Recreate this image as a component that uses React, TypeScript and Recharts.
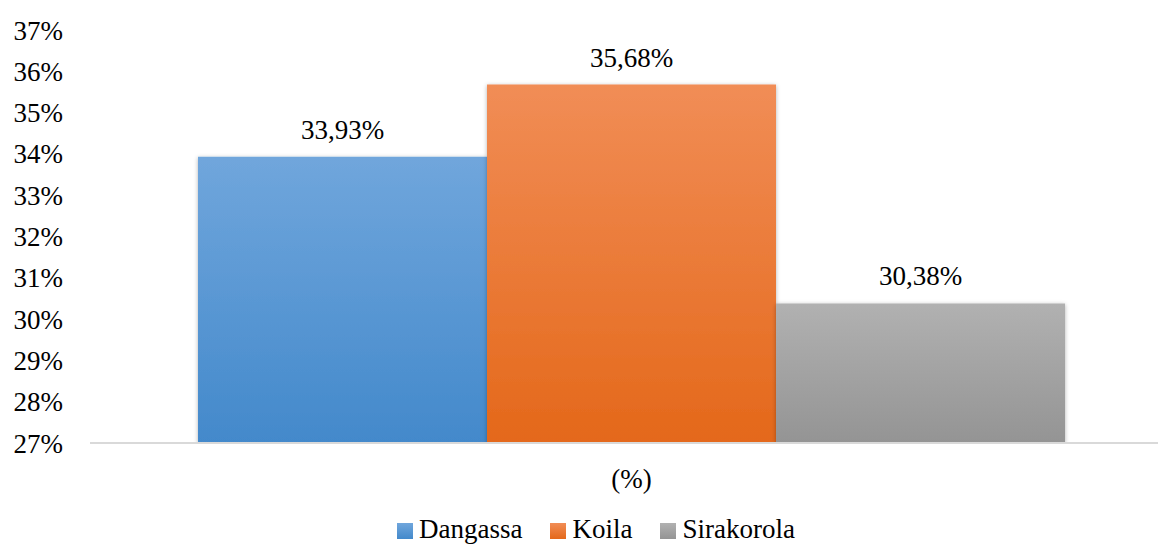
import { BarChart, Bar, XAxis, YAxis, LabelList } from "recharts";

const categories = ["(%)"];
const seriesNames = ["Dangassa", "Koila", "Sirakorola"];
const seriesValues = [33.93, 35.68, 30.38];
const yTicks = [27, 28, 29, 30, 31, 32, 33, 34, 35, 36, 37];

// top / bottom gradient stops per series
const seriesColors = [
  ["#70a6dc", "#4389cb"],
  ["#f18d56", "#e4681a"],
  ["#b1b1b1", "#949494"],
];

const data = categories.map((cat) => {
  const row: Record<string, string | number> = { cat };
  seriesNames.forEach((name, i) => {
    row[name] = seriesValues[i];
  });
  return row;
});

const font = "'Liberation Serif', 'Times New Roman', Times, 'DejaVu Serif', serif";
const fs = 27;
const fmtPct = (v: number) => v.toFixed(2).replace(".", ",") + "%";

export default function App() {
  return (
    <div
      style={{
        position: "absolute",
        left: 0,
        top: 0,
        width: 1158,
        height: 547,
        overflow: "hidden",
        background: "#fff",
        fontFamily: font,
      }}
    >
      <BarChart
        width={1173}
        height={547}
        data={data}
        margin={{ top: 30, right: 0, left: 0, bottom: 74 }}
        barCategoryGap={108}
        barGap={0}
        style={{ fontFamily: font }}
      >
        <defs>
          {seriesColors.map(([top, bottom], i) => (
            <linearGradient key={i} id={`grad${i}`} x1="0" y1="0" x2="0" y2="1">
              <stop offset="0%" stopColor={top} />
              <stop offset="100%" stopColor={bottom} />
            </linearGradient>
          ))}
          <filter id="shadow" x="-10%" y="-10%" width="120%" height="120%">
            <feDropShadow dx="0" dy="1" stdDeviation="2" floodColor="#000" floodOpacity="0.3" />
          </filter>
        </defs>
        <XAxis
          dataKey="cat"
          height={30}
          axisLine={{ stroke: "#d9d9d9", strokeWidth: 2 }}
          tickLine={false}
          tick={{ fill: "#000", fontSize: fs, fontFamily: font }}
          tickMargin={20}
        />
        <YAxis
          domain={[27, 37]}
          ticks={yTicks}
          width={90}
          axisLine={false}
          tickLine={false}
          tickSize={6}
          tickMargin={21}
          interval={0}
          tickFormatter={(v: number) => `${v}%`}
          tick={{ fill: "#000", fontSize: fs, fontFamily: font }}
          allowDataOverflow
        />
        {seriesNames.map((name, i) => (
          <Bar
            key={name}
            dataKey={name}
            fill={`url(#grad${i})`}
            filter="url(#shadow)"
            isAnimationActive={false}
          >
            <LabelList
              dataKey={name}
              position="top"
              offset={18}
              formatter={(v: number) => fmtPct(v)}
              style={{ fill: "#000", fontSize: fs, fontFamily: font }}
            />
          </Bar>
        ))}
      </BarChart>
      <div
        style={{
          position: "absolute",
          left: 0,
          width: 1192,
          top: 514,
          display: "flex",
          justifyContent: "center",
          alignItems: "center",
          fontSize: fs,
          lineHeight: "30px",
          color: "#000",
          whiteSpace: "nowrap",
        }}
      >
        {seriesNames.map((name, i) => (
          <div
            key={name}
            style={{ display: "flex", alignItems: "center", marginLeft: i === 0 ? 0 : 28 }}
          >
            <span
              style={{
                display: "inline-block",
                width: 16,
                height: 16,
                marginRight: 6,
                marginTop: 4,
                background: `linear-gradient(${seriesColors[i][0]}, ${seriesColors[i][1]})`,
              }}
            />
            <span>{name}</span>
          </div>
        ))}
      </div>
    </div>
  );
}
